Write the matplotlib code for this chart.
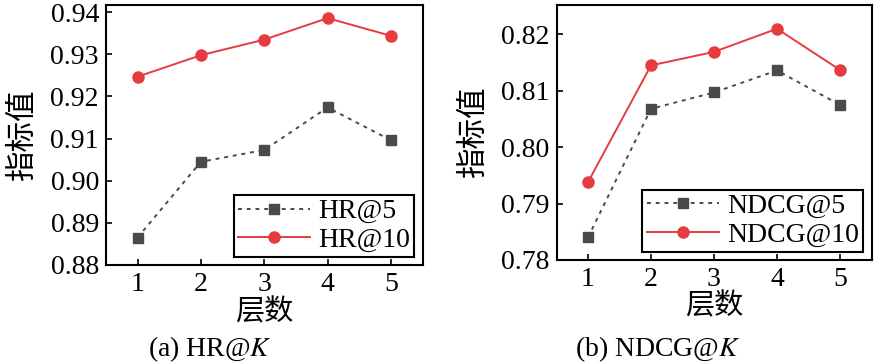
import matplotlib
matplotlib.use("Agg")
import matplotlib.pyplot as plt

plt.rcParams["font.family"] = ["Liberation Serif", "Noto Sans CJK SC"]
plt.rcParams["mathtext.fontset"] = "stix"

layers = [1, 2, 3, 4, 5]
hr5 = [0.8865, 0.9045, 0.9073, 0.9174, 0.9096]
hr10 = [0.9247, 0.9298, 0.9335, 0.9386, 0.9344]
ndcg5 = [0.7840, 0.8068, 0.8097, 0.8136, 0.8075]
ndcg10 = [0.7938, 0.8145, 0.8169, 0.8210, 0.8137]

hr_ticks = [0.88, 0.89, 0.90, 0.91, 0.92, 0.93, 0.94]
ndcg_ticks = [0.78, 0.79, 0.80, 0.81, 0.82]

gray = "#4a4a4a"
red = "#e63b3f"
cjk = ["Noto Sans CJK SC"]

fig = plt.figure(figsize=(8.75, 3.63), dpi=100)
ax1 = fig.add_axes([0.121, 0.270, 0.362, 0.716])
ax2 = fig.add_axes([0.636, 0.284, 0.360, 0.702])


def draw(ax, y5, y10, name, ticks, ylim):
    ax.plot(layers, y5, ls=(0, (2, 2.5)), color=gray, lw=1.4,
            marker="s", ms=7, label=name + "@5")
    ax.plot(layers, y10, ls="-", color=red, lw=1.4,
            marker="o", ms=8, label=name + "@10")
    ax.set_xlim(0.5, 5.5)
    ax.set_ylim(*ylim)
    ax.set_xticks(layers)
    ax.set_yticks(ticks)
    ax.set_yticklabels(["%.2f" % t for t in ticks])
    ax.tick_params(direction="in", length=4, width=1.2, labelsize=20, pad=5)
    for s in ax.spines.values():
        s.set_linewidth(1.5)
    ax.set_xlabel("层数", family=cjk, fontsize=21, labelpad=0)
    ax.set_ylabel("指标值", family=cjk, fontsize=22, labelpad=9)
    leg = ax.legend(loc="lower right", fontsize=20, fancybox=False,
                    edgecolor="black", framealpha=1, borderpad=0.15,
                    handlelength=2.6, handletextpad=0.3, labelspacing=0.1,
                    borderaxespad=0.3)
    leg.get_frame().set_linewidth(1.5)


draw(ax1, hr5, hr10, "HR", hr_ticks, (0.88, 0.9417))
draw(ax2, ndcg5, ndcg10, "NDCG", ndcg_ticks, (0.78, 0.8252))

fig.text(0.24, 0.02, "(a) HR@$K$", ha="center", fontsize=20)
fig.text(0.752, 0.02, "(b) NDCG@$K$", ha="center", fontsize=20)

fig.savefig("out.png", dpi=100)
